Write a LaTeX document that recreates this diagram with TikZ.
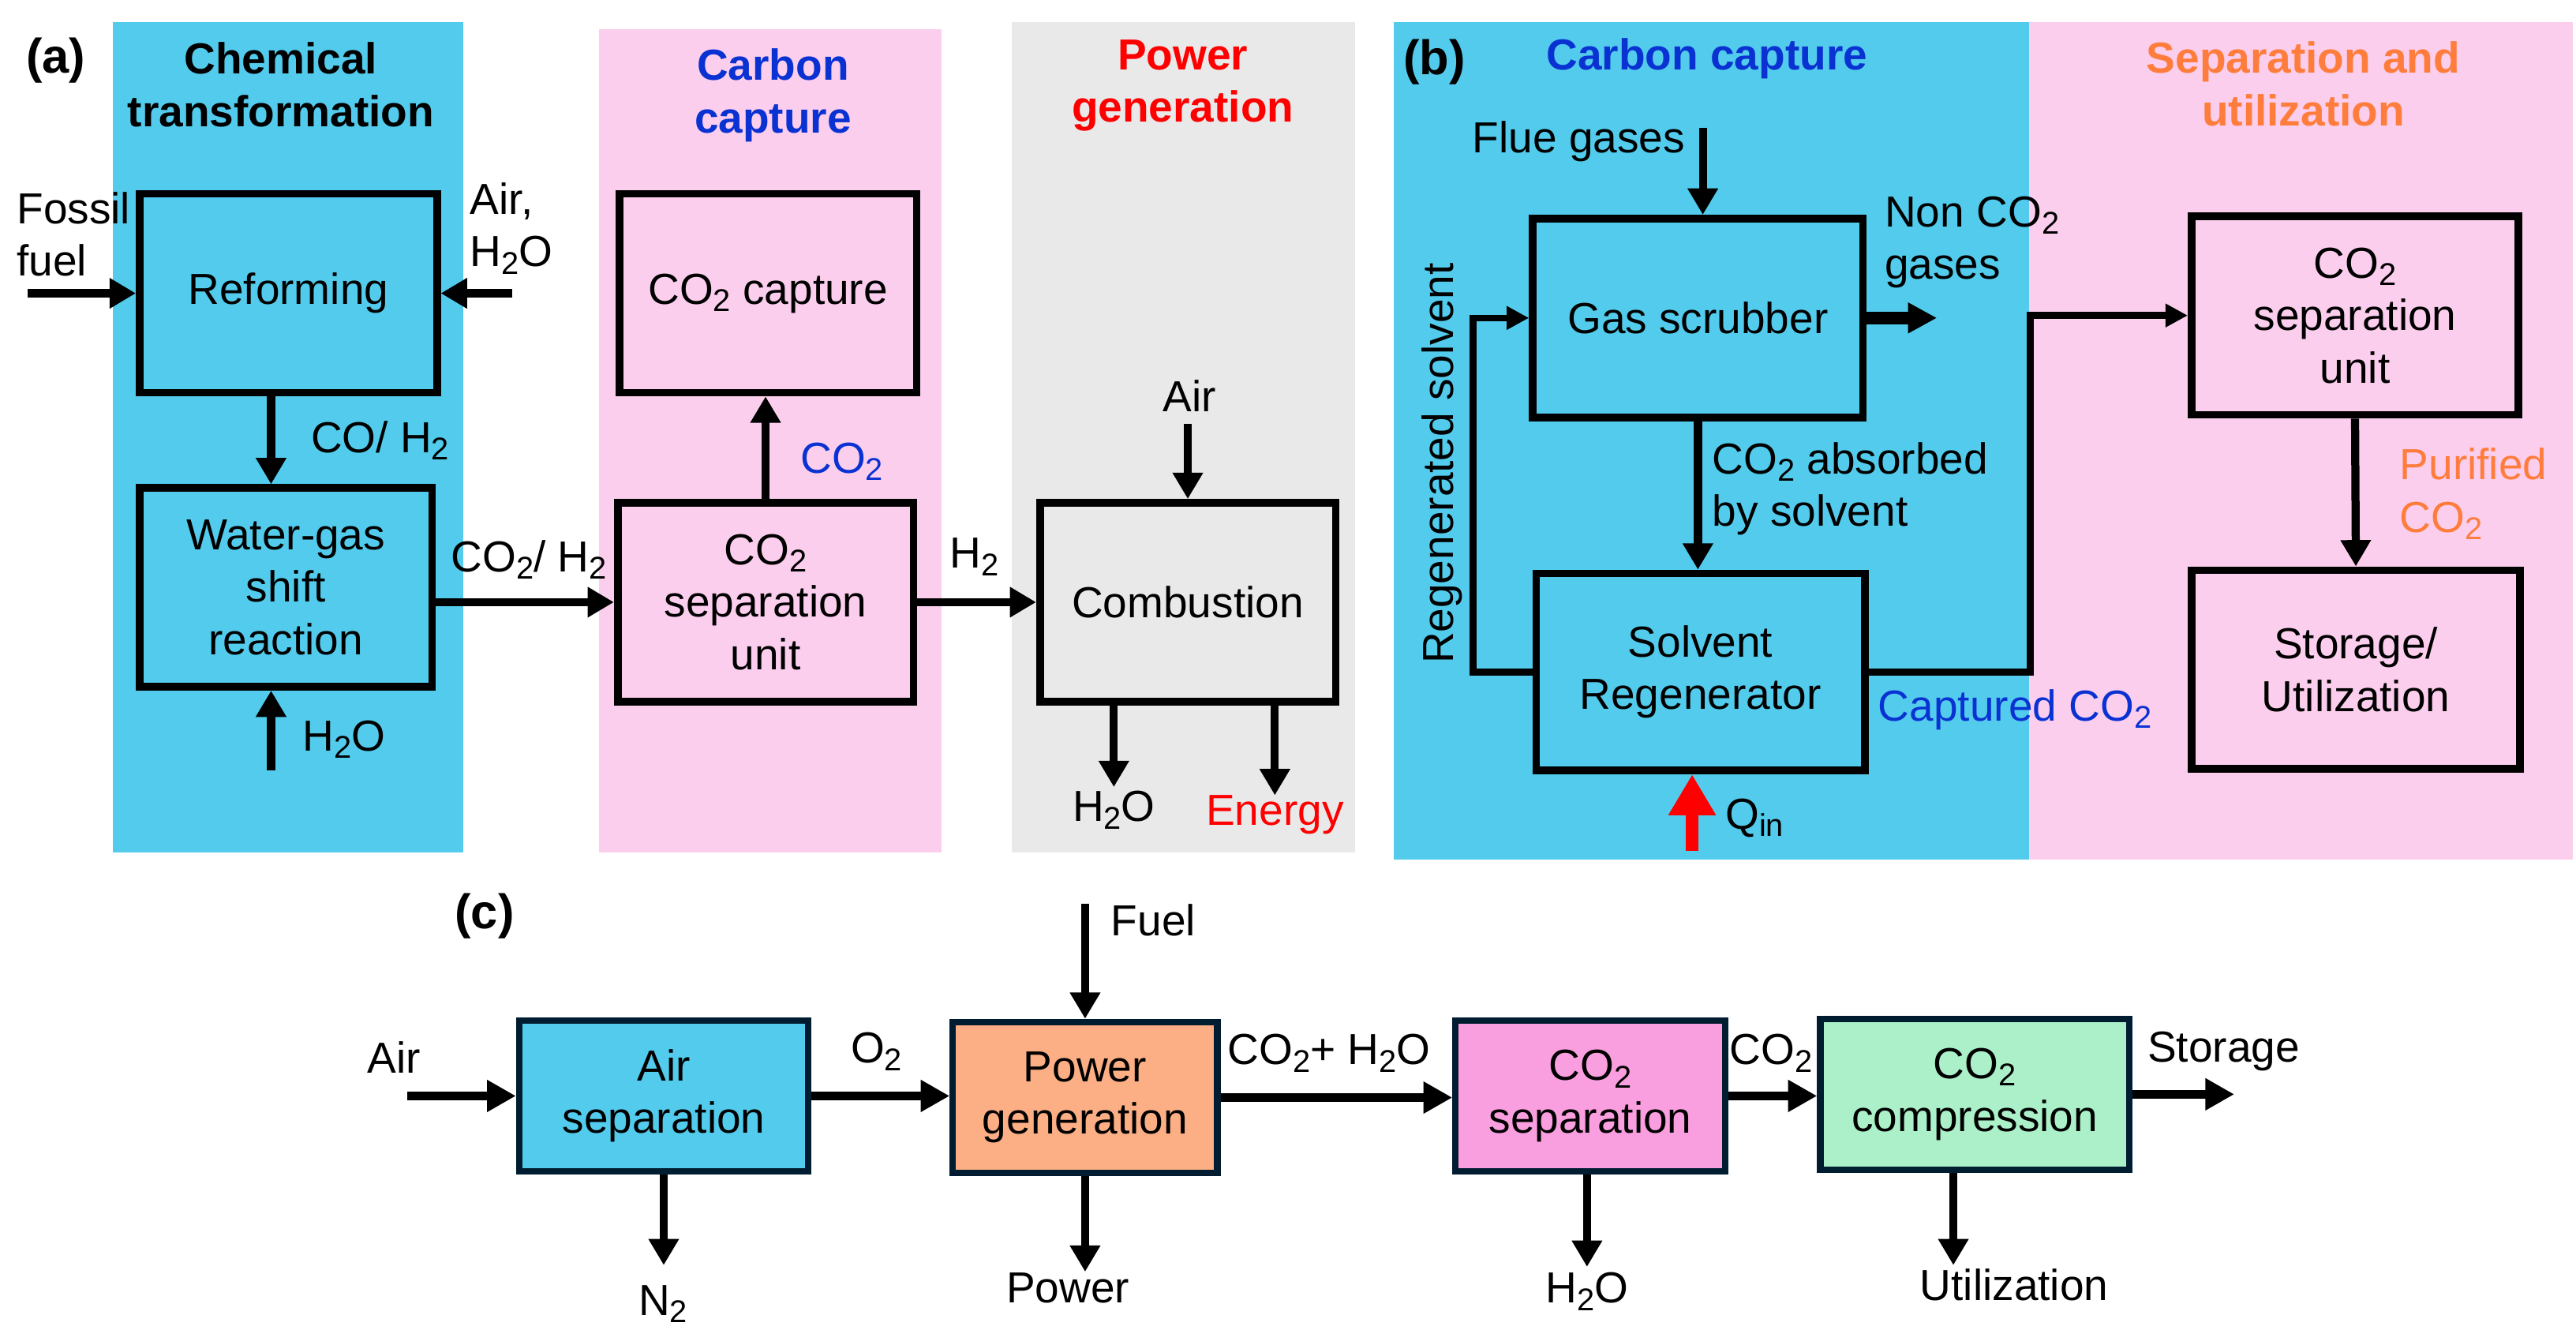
\documentclass[tikz,border=0pt]{standalone}
\usepackage{fontspec}
\setmainfont{Liberation Sans}
\usetikzlibrary{arrows.meta}
\definecolor{cyanA}{RGB}{82,203,236}
\definecolor{pinkA}{RGB}{251,206,237}
\definecolor{grayA}{RGB}{233,233,233}
\definecolor{headblue}{RGB}{10,50,210}
\definecolor{orangeH}{RGB}{255,125,60}
\definecolor{navyC}{RGB}{0,28,48}
\definecolor{pgenC}{RGB}{252,174,132}
\definecolor{sepcC}{RGB}{249,158,222}
\definecolor{compC}{RGB}{171,240,200}
\newcommand\sbt[1]{\raisebox{-0.32ex}{\fontsize{13.6}{14}\selectfont #1}}
\newcommand\mfs{\fontsize{18.8}{22.7}\selectfont}
\begin{document}
\begin{tikzpicture}[x=0.025cm,y=-0.025cm,
  every node/.append style={font=\mfs, inner sep=0pt, align=center},
  sz/.style 2 args={minimum width=#1*0.025cm, minimum height=#2*0.025cm},
  boxa/.style={draw=black, line width=3.3pt},
  boxc/.style={draw=navyC, line width=2.8pt},
  head/.style={font=\mfs\bfseries},
  plabel/.style={font=\fontsize{21}{24}\selectfont\bfseries},
  arr/.style={line width=3.5pt, -{Triangle[length=0.40cm,width=0.44cm]}},
  thinarr/.style={line width=2.9pt, -{Triangle[length=0.34cm,width=0.34cm]}},
  fatarr/.style={line width=5.4pt, -{Triangle[length=0.44cm,width=0.44cm]}},
  qarr/.style={draw=red, line width=5.4pt, -{Triangle[length=0.62cm,width=0.68cm]}},
  arrc/.style={line width=4pt, -{Triangle[length=0.44cm,width=0.46cm]}}
]
\useasboundingbox (0,0) rectangle (1568,809);
% background bands
\fill[cyanA] (68.5,13.5) rectangle (282,519);
\fill[pinkA] (364.5,18) rectangle (573,519);
\fill[grayA] (616,13.5) rectangle (825,519);
\fill[cyanA] (848.5,13.5) rectangle (1235,523);
\fill[pinkA] (1235,13.5) rectangle (1566,523);

% ---------------- panel (a)
\node[plabel] (la) at (34,37) {(a)};
\node[head] (hchem) at (171,51.5) {Chemical\\transformation};
\node[head, text=headblue] (hcap) at (470.5,58) {Carbon\\capture};
\node[head, text=red] (hpow) at (720,52) {Power\\generation};

\node[boxa, fill=cyanA, sz={181}{121}] (ref) at (175.5,178.5) {Reforming};
\node[boxa, fill=cyanA, sz={178}{121}] (wgs) at (174,357.5) {Water-gas\\shift\\reaction};
\node[boxa, fill=pinkA, sz={181}{121}] (cap) at (467.5,178.5) {CO\sbt{2} capture};
\node[boxa, fill=pinkA, sz={180}{121}] (sepa) at (466,366.5) {CO\sbt{2}\\separation\\unit};
\node[boxa, fill=grayA, sz={180}{121}] (comb) at (723,366.5) {Combustion};

\node[anchor=west, align=left] (tff) at (10,142.5) {Fossil\\fuel};
\node[anchor=west, align=left] (tah) at (286,139) {Air,\\H\sbt{2}O};
\node[anchor=west] (tcoh) at (189,268) {CO/ H\sbt{2}};
\node[anchor=west] (th2oa) at (184,450) {H\sbt{2}O};
\node (tco2h2) at (322,340.5) {CO\sbt{2}/ H\sbt{2}};
\node[anchor=west, text=headblue] (tco2a) at (487,281) {CO\sbt{2}};
\node[anchor=west] (th2) at (578,339) {H\sbt{2}};
\node (tair) at (724,241) {Air};
\node (th2ob) at (678,493) {H\sbt{2}O};
\node[text=red] (tenergy) at (776,496) {Energy};

\coordinate (ffs) at (17,178.5);
\coordinate (ahs) at (312,178.5);
\coordinate (h2oin) at (165,469);
\coordinate (airc) at (723,258);
\coordinate (h2oe) at (678,479);
\coordinate (ene) at (776,484);

\draw[arr] (ffs) -- (ref.west);
\draw[arr] (ahs) -- (ref.east);
\draw[arr] ([xshift=-0.2625cm]ref.south) -- ([xshift=-0.2625cm]ref.south |- wgs.north);
\draw[arr] (h2oin) -- (h2oin |- wgs.south);
\draw[arr] (wgs.east |- sepa.west) -- (sepa.west);
\draw[arr] (sepa.north) -- (sepa.north |- cap.south);
\draw[arr] (sepa.east) -- (comb.west);
\draw[arr] (airc) -- (comb.north);
\draw[arr] (h2oe |- comb.south) -- (h2oe);
\draw[arr] (ene |- comb.south) -- (ene);

% ---------------- panel (b)
\node[plabel] (lb) at (873,38) {(b)};
\node[head, text=headblue] (hcapb) at (1039,35.5) {Carbon capture};
\node[head, text=orangeH] (hsep) at (1402,51) {Separation and\\utilization};

\node[boxa, fill=cyanA, sz={201}{121}] (scrub) at (1033.5,193.5) {Gas scrubber};
\node[boxa, fill=cyanA, sz={200}{120}] (regen) at (1035,409) {Solvent\\Regenerator};
\node[boxa, fill=pinkA, sz={199}{121}] (sepb) at (1433.5,192) {CO\sbt{2}\\separation\\unit};
\node[boxa, fill=pinkA, sz={200}{121}] (stor) at (1434,407.5) {Storage/\\Utilization};

\node[anchor=east] (tflue) at (1026,86) {Flue gases};
\node[anchor=west, align=left] (tnon) at (1147,147.5) {Non CO\sbt{2}\\gases};
\node[anchor=west, align=left] (tabs) at (1042,297.5) {CO\sbt{2} absorbed\\by solvent};
\node[rotate=90] (treg) at (878,282) {Regenerated solvent};
\node[anchor=west, text=headblue] (tcapt) at (1143,432) {Captured CO\sbt{2}};
\node[anchor=west] (tq) at (1050,498) {Q\sbt{in}};
\node[anchor=west, align=left, text=orangeH] (tpur) at (1460.5,300.5) {Purified\\CO\sbt{2}};

\coordinate (fgs) at (1036.5,78);
\coordinate (nge) at (1179,193.5);
\coordinate (qs) at (1030,518);

\draw[arr] (fgs) -- (fgs |- scrub.north);
\draw[fatarr] (scrub.east) -- (nge);
\draw[arr] (scrub.south) -- (scrub.south |- regen.north);
\draw[thinarr] (regen.west) -- ++(-36,0) |- (scrub.west);
\draw[thinarr] (regen.east) -- ++(98.5,0) |- (sepb.west);
\draw[qarr] (qs) -- (qs |- regen.south);
\draw[arr] (sepb.south) -- (stor.north);

% ---------------- panel (c)
\node[plabel] (lc) at (295,557.6) {(c)};
\node[boxc, fill=cyanA, sz={176}{92}] (airsep) at (404,667) {Air\\separation};
\node[boxc, fill=pgenC, sz={161}{92}] (pgen) at (660.5,668) {Power\\generation};
\node[boxc, fill=sepcC, sz={164}{92}] (sepc) at (968,667) {CO\sbt{2}\\separation};
\node[boxc, fill=compC, sz={188}{92}] (comp) at (1202,666) {CO\sbt{2}\\compression};

\node (tairc) at (240,643.5) {Air};
\node (to2) at (533.5,640) {O\sbt{2}};
\node[anchor=west] (tfuel) at (676,560) {Fuel};
\node (tn2) at (403.5,793.5) {N\sbt{2}};
\node (tpower) at (650,784) {Power};
\node (tco2h2o) at (809,641) {CO\sbt{2}+ H\sbt{2}O};
\node (tco2c) at (1078,641) {CO\sbt{2}};
\node (tstor) at (1353.5,640) {Storage};
\node (th2oc) at (966,786) {H\sbt{2}O};
\node (tutil) at (1226,782) {Utilization};

\coordinate (airin) at (248,667);
\coordinate (fuels) at (660.5,550);
\coordinate (n2e) at (404,770);
\coordinate (pwe) at (660.5,774);
\coordinate (stoe) at (1360,666);
\coordinate (h2oce) at (966,771);
\coordinate (utile) at (1189,770);

\draw[arrc] (airin) -- (airsep.west);
\draw[arrc] (airsep.east) -- (airsep.east -| pgen.west);
\draw[arr] (fuels) -- (pgen.north);
\draw[arr] (airsep.south) -- (n2e);
\draw[arr] (pgen.south) -- (pwe);
\draw[arrc] (pgen.east) -- (pgen.east -| sepc.west);
\draw[arrc] (sepc.east) -- (sepc.east -| comp.west);
\draw[arrc] (comp.east) -- (stoe);
\draw[arr] (h2oce |- sepc.south) -- (h2oce);
\draw[arr] (utile |- comp.south) -- (utile);
\end{tikzpicture}
\end{document}
